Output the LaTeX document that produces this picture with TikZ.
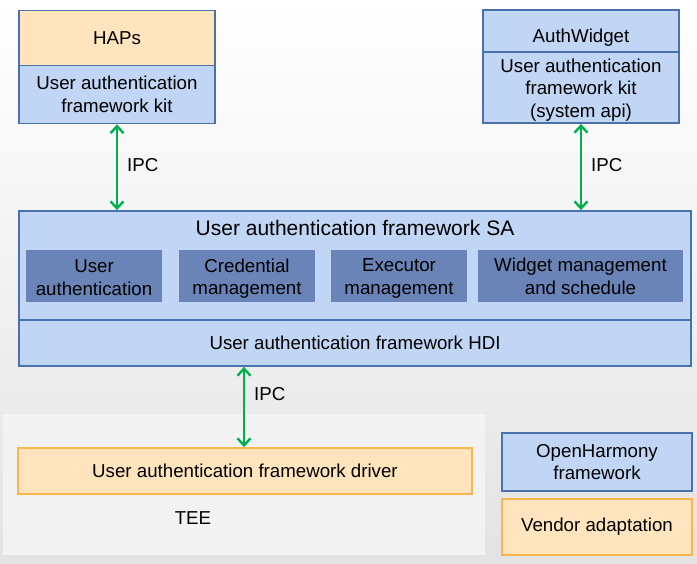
\documentclass[tikz,border=0pt]{standalone}
\usepackage{fontspec}
\setmainfont{Liberation Sans}
\usetikzlibrary{arrows.meta}
\definecolor{fwfill}{HTML}{C0D6F4}
\definecolor{fwline}{HTML}{4A70AE}
\definecolor{modfill}{HTML}{6A84B8}
\definecolor{venfill}{HTML}{FFE4BE}
\definecolor{venline}{HTML}{F8B64C}
\definecolor{ipcgreen}{HTML}{00B050}
\definecolor{teefill}{HTML}{F2F2F2}

\begin{document}
\begin{tikzpicture}[x=1pt,y=-1pt,
                    every node/.style={font=\fontsize{18.7}{22.5}\selectfont,align=center,inner sep=0pt},
                    fwbox/.style={draw=fwline,fill=fwfill,line width=1.8pt,minimum width=#1},
                    modbox/.style={fill=modfill,minimum width=#1,minimum height=52},
                    venbox/.style={draw=venline,fill=venfill,line width=1.8pt,minimum width=#1},
                    ipc/.style={ipcgreen,line width=2.4pt,{Straight Barb[length=7pt,width=13pt]}-{Straight Barb[length=7pt,width=13pt]}},
                    ipclabel/.style={text=black,right=9pt}]
                    \shade[top color=white,bottom color=black!11] (0,0) rectangle (697,564);
                    \useasboundingbox (0,0) rectangle (697,564);
                    \node[fill=teefill,minimum width=482,minimum height=141] (tee) at (244,484.5) {};
                    \node[fwbox=196,fill=venfill,minimum height=55] (haps) at (117,38) {HAPs};
                    \node[fwbox=196,minimum height=58] (kit) at (117,94.5) {User authentication\\framework kit};
                    \node[fwbox=196,minimum height=42] (widget) at (581,31) {};
                    \node (widgetlabel) at (581,38) {AuthWidget};
                    \node[fwbox=196,minimum height=71] (syskit) at (581,87.5) {};
                    \node (syskitlabel) at (581,90) {User authentication\\framework kit\\(system api)};
                    \node[fwbox=672,minimum height=109] (sa) at (355,265.5) {};
                    \node[font=\fontsize{21}{25}\selectfont] (satitle) at (355,228) {User authentication framework SA};
                    \node[modbox=136] (userauth) at (94,276) {};
                    \node[modbox=136] (credmgr) at (247,276) {};
                    \node[modbox=136] (execmgr) at (399,276) {};
                    \node[modbox=205] (widgetmgr) at (580.5,276) {};
                    \node (userauthlabel) at (userauth.center) [yshift=-1.5pt] {User\\authentication};
                    \node (credmgrlabel) at (credmgr.center) [yshift=-2.5pt] {Credential\\management};
                    \node (execmgrlabel) at (execmgr.center) [yshift=-2.5pt] {Executor\\management};
                    \node (widgetmgrlabel) at (widgetmgr.center) [yshift=-0.5pt] {Widget management\\and schedule};
                    \node[fwbox=672,minimum height=46] (hdi) at (355,343) {User authentication framework HDI};
                    \node[venbox=454,minimum height=46] (driver) at (245,471) {User authentication framework driver};
                    \node (teelabel) at (193,518) {TEE};
                    \node[fwbox=190,minimum height=58] (ohfw) at (597,462) {OpenHarmony\\framework};
                    \node[venbox=190,minimum height=56] (vendor) at (597,527) {Vendor adaptation};
                    \draw[ipc] (kit.south) -- (kit.south |- sa.north) node[pos=0.48,ipclabel] {IPC};
                    \draw[ipc] (syskit.south) -- (syskit.south |- sa.north) node[pos=0.48,ipclabel] {IPC};
                    \draw[ipc] (hdi.south -| 244,0) -- (driver.north -| 244,0) node[pos=0.34,ipclabel] {IPC};
                \end{tikzpicture}
\end{document}
